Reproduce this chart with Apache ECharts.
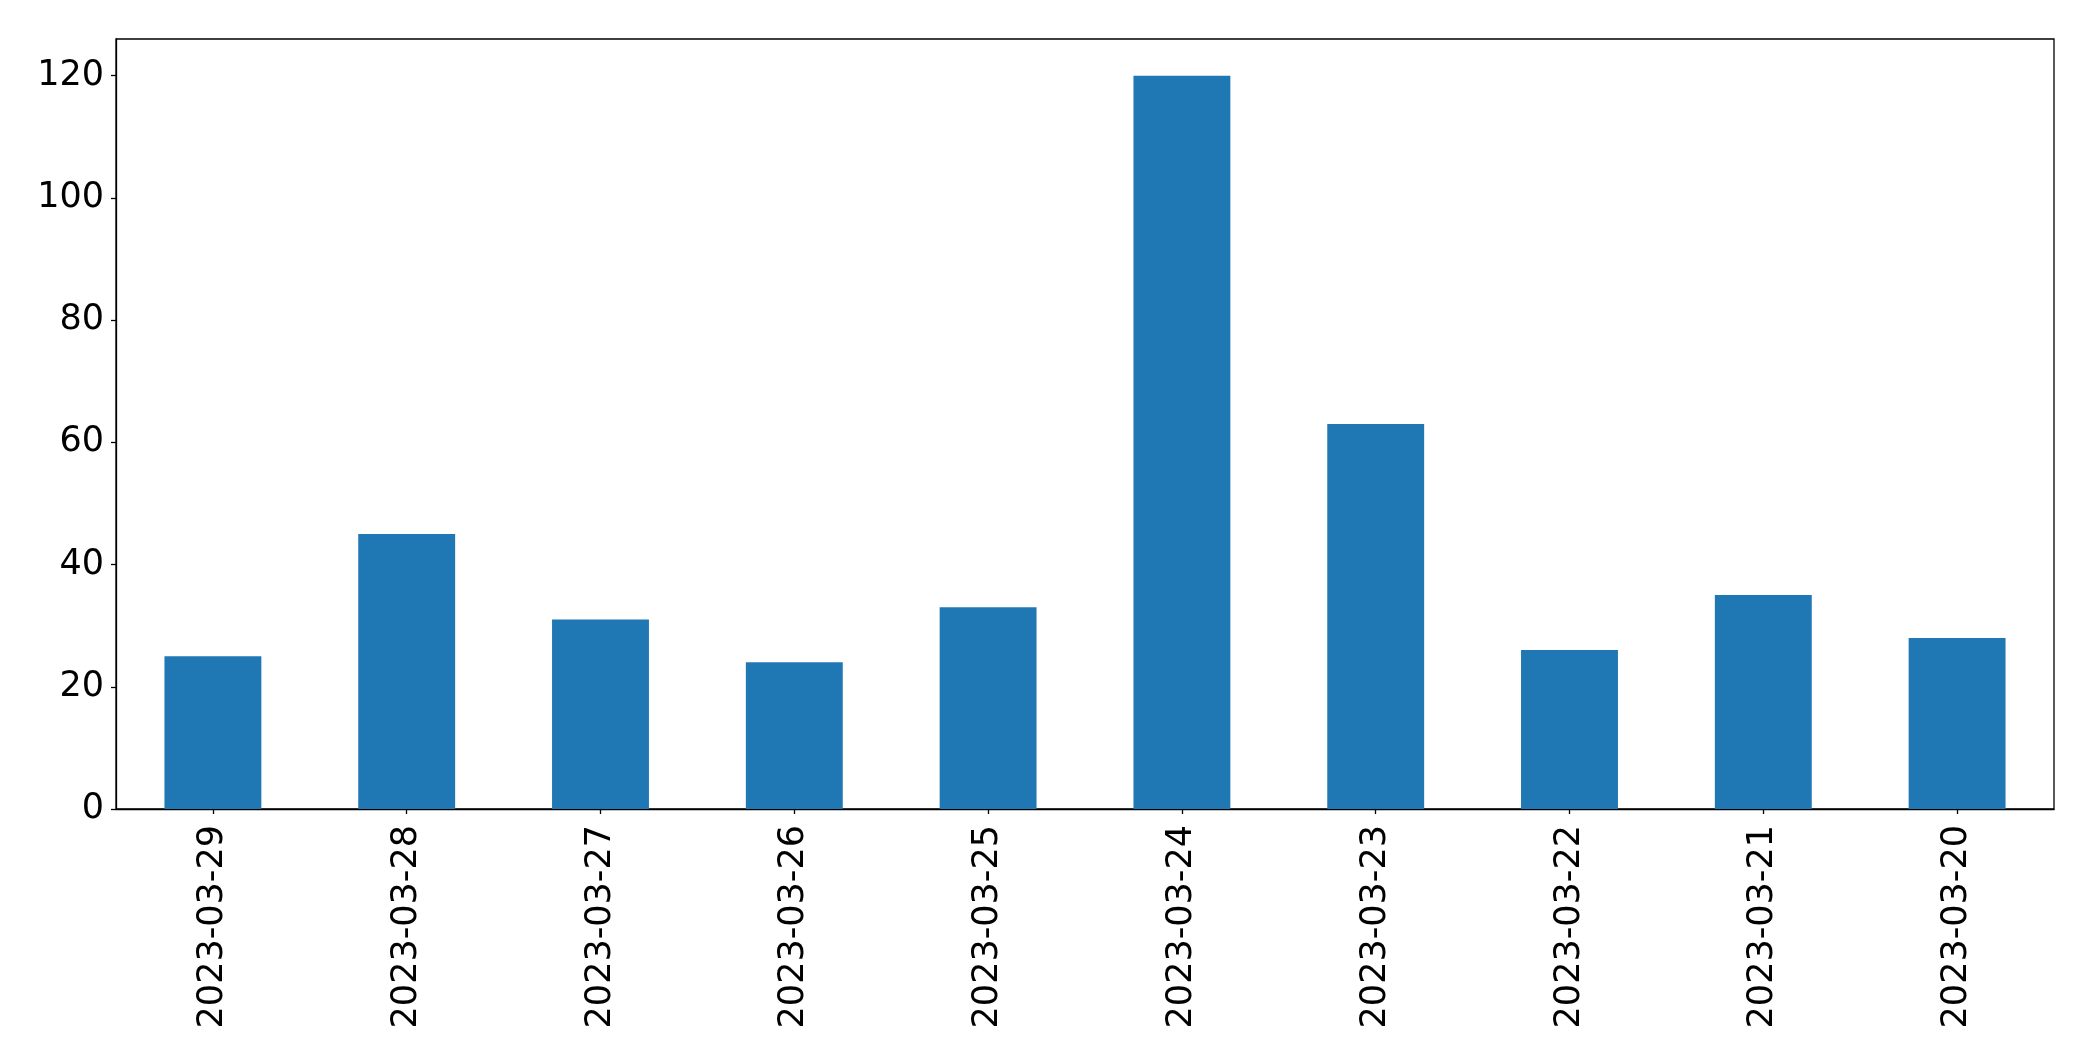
<!DOCTYPE html>
<html>
<head>
<meta charset="utf-8">
<script src="https://cdn.jsdelivr.net/npm/echarts@6/dist/echarts.min.js"></script>
<style>
html,body{margin:0;padding:0;background:#fff;}
#chart{width:2093px;height:1061px;}
</style>
</head>
<body>
<div id="chart"></div>
<script>
const categories = ['2023-03-29','2023-03-28','2023-03-27','2023-03-26','2023-03-25','2023-03-24','2023-03-23','2023-03-22','2023-03-21','2023-03-20'];
const values = [25, 45, 31, 24, 33, 120, 63, 26, 35, 28];
const yTicks = [0, 20, 40, 60, 80, 100, 120];

const chart = echarts.init(document.getElementById('chart'), null, {renderer: 'canvas'});
const font = 'DejaVu Sans';
chart.setOption({
  animation: false,
  backgroundColor: '#ffffff',
  grid: {left: 116, right: 39, top: 39, bottom: 252, show: true, borderColor: '#000', borderWidth: 1.3, backgroundColor: 'transparent'},
  xAxis: {
    type: 'category',
    data: categories,
    axisLine: {show: true, lineStyle: {color: '#000', width: 1.3}},
    axisTick: {show: true, alignWithLabel: true, length: 5, lineStyle: {color: '#000', width: 1.3}},
    axisLabel: {rotate: 90, interval: 0, margin: 16, color: '#000', fontFamily: font, fontSize: 35},
    splitLine: {show: false}
  },
  yAxis: {
    type: 'value',
    min: 0,
    max: 126,
    interval: 20,
    axisLine: {show: true, lineStyle: {color: '#000', width: 1.3}},
    axisTick: {show: true, length: 5, customValues: yTicks, lineStyle: {color: '#000', width: 1.3}},
    axisLabel: {margin: 12, color: '#000', fontFamily: font, fontSize: 35, customValues: yTicks},
    splitLine: {show: false}
  },
  series: [{
    type: 'bar',
    data: values,
    barWidth: '50%',
    itemStyle: {color: '#1f77b4'}
  }]
});
</script>
</body>
</html>
